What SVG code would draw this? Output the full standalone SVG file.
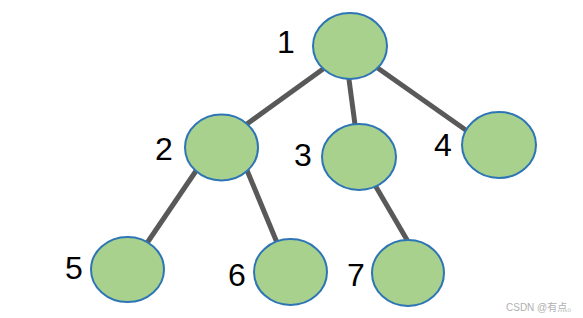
<svg xmlns="http://www.w3.org/2000/svg" width="583" height="318" viewBox="0 0 583 318">
<style>
.edge{stroke:#595959;stroke-width:5;fill:none}
.node{fill:#A9D18E;stroke:#2E75B6;stroke-width:2}
.lbl{font-family:"Liberation Sans",Arial,sans-serif;font-size:32px;fill:#000;text-anchor:middle}
.wm{font-family:"Liberation Sans","Noto Sans CJK SC",sans-serif;font-size:10px;fill:#b0b0b0}
</style>
<rect width="583" height="318" fill="#fff"/>
<g id="connectors">
<line class="edge" x1="330" y1="64" x2="240" y2="129"/>
<line class="edge" x1="348" y1="72" x2="356" y2="132"/>
<line class="edge" x1="372" y1="64" x2="470" y2="133"/>
<line class="edge" x1="200" y1="165" x2="145" y2="246"/>
<line class="edge" x1="244" y1="163" x2="278" y2="245"/>
<line class="edge" x1="372" y1="180" x2="410" y2="245"/>
</g>
<g id="node1"><ellipse class="node" cx="350" cy="46" rx="37" ry="33"/><text class="lbl" x="286" y="53">1</text></g>
<g id="node2"><ellipse class="node" cx="221.5" cy="147.5" rx="36.5" ry="33"/><text class="lbl" x="164" y="160">2</text></g>
<g id="node3"><ellipse class="node" cx="359" cy="157" rx="37" ry="33"/><text class="lbl" x="303" y="166">3</text></g>
<g id="node4"><ellipse class="node" cx="499" cy="145" rx="37" ry="33"/><text class="lbl" x="443" y="156">4</text></g>
<g id="node5"><ellipse class="node" cx="127.5" cy="269.5" rx="36.5" ry="32.5"/><text class="lbl" x="74" y="279">5</text></g>
<g id="node6"><ellipse class="node" cx="290.5" cy="272" rx="36.5" ry="33"/><text class="lbl" x="237" y="286">6</text></g>
<g id="node7"><ellipse class="node" cx="408" cy="273" rx="36" ry="33"/><text class="lbl" x="356" y="286">7</text></g>
<text class="wm" x="506" y="311">CSDN @有点。</text>
</svg>
